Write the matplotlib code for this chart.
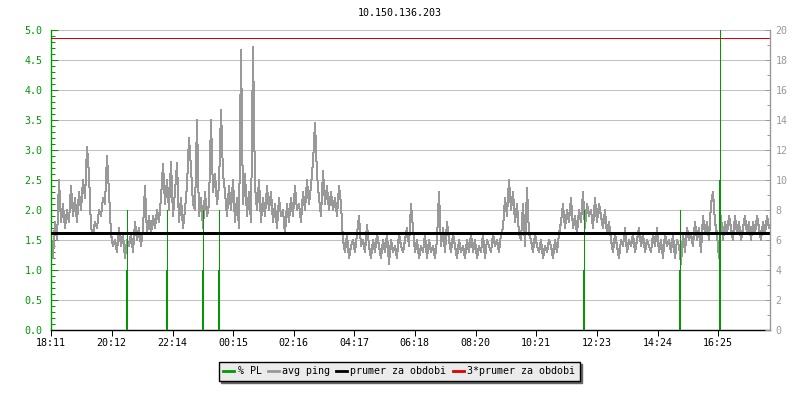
import matplotlib
matplotlib.use("Agg")
import matplotlib.pyplot as plt
from matplotlib.ticker import MultipleLocator, FormatStrFormatter
import numpy as np

title = "10.150.136.203"
tick_labels = ["18:11", "20:12", "22:14", "00:15", "02:16", "04:17",
               "06:18", "08:20", "10:21", "12:23", "14:24", "16:25"]
sample_step_min = 4
span_min = 1438

avg_ping = [
    1.6, 1.2, 1.8, 1.5, 2.5, 1.8, 2.1, 1.7, 2.0, 1.8,
    2.4, 1.9, 2.2, 1.8, 2.3, 2.0, 2.5, 2.2, 3.05, 2.6,
    1.7, 1.6, 1.8, 1.7, 2.0, 1.9, 2.2, 2.1, 2.9, 2.3,
    1.6, 1.4, 1.5, 1.3, 1.7, 1.4, 1.6, 1.2, 1.5, 1.4,
    1.6, 1.3, 1.8, 1.5, 1.7, 1.4, 1.7, 2.4, 1.6, 1.9,
    1.6, 1.9, 1.7, 2.0, 1.8, 2.2, 2.77, 2.1, 2.5, 2.0,
    2.8, 1.9, 2.3, 2.78, 1.8, 2.2, 1.7, 2.0, 2.4, 3.2,
    2.7, 2.1, 2.0, 3.5, 1.9, 2.2, 1.7, 2.3, 1.9, 2.1,
    3.5, 2.3, 2.6, 2.1, 2.4, 3.67, 2.6, 2.3, 1.9, 2.4,
    2.0, 2.5, 1.8, 2.2, 1.7, 4.67, 2.1, 2.6, 1.9, 2.3,
    1.8, 4.72, 2.4, 2.0, 2.5, 1.8, 2.2, 1.9, 2.4, 2.0,
    2.3, 1.8, 2.1, 1.7, 2.2, 1.9, 2.0, 1.6, 2.1, 1.8,
    2.2, 1.9, 2.4, 2.0, 2.1, 1.8, 2.3, 2.0, 2.5, 2.1,
    2.4, 2.8, 3.45, 2.6, 2.2, 1.9, 2.65, 2.1, 2.4, 2.0,
    2.3, 2.0, 2.2, 1.9, 2.4, 2.1, 1.5, 1.3, 1.6, 1.2,
    1.4, 1.5, 1.3, 1.6, 1.9, 1.4, 1.5, 1.3, 1.75, 1.4,
    1.2, 1.5, 1.3, 1.6, 1.4, 1.2, 1.5, 1.3, 1.6, 1.1,
    1.5, 1.3, 1.4, 1.2, 1.6, 1.4, 1.3, 1.5, 1.7, 1.4,
    2.1, 1.7, 1.3, 1.5, 1.2, 1.4, 1.3, 1.6, 1.2, 1.5,
    1.3, 1.4, 1.2, 1.5, 2.3, 1.4, 1.7, 1.3, 1.8, 1.5,
    1.3, 1.6, 1.4, 1.2, 1.5, 1.3, 1.4, 1.2, 1.5, 1.3,
    1.6, 1.3, 1.5, 1.2, 1.4, 1.3, 1.6, 1.2, 1.5, 1.4,
    1.3, 1.6, 1.4, 1.5, 1.3, 1.6, 1.7, 2.2, 1.9, 2.5,
    2.0, 2.3, 1.8, 2.1, 1.6, 1.5, 2.1, 1.4, 2.36, 1.6,
    1.5, 1.3, 1.6, 1.4, 1.3, 1.5, 1.2, 1.4, 1.3, 1.5,
    1.4, 1.2, 1.5, 1.3, 1.6, 1.8, 2.1, 1.7, 2.0, 1.8,
    2.2, 1.7, 1.9, 1.6, 2.0, 1.8, 2.3, 1.7, 2.1, 1.9,
    2.0, 1.7, 2.2, 1.8, 2.1, 1.9, 1.7, 2.0, 1.6, 1.8,
    1.5, 1.3, 1.6, 1.4, 1.2, 1.5, 1.4, 1.7, 1.3, 1.5,
    1.4, 1.6, 1.3, 1.5, 1.7, 1.4, 1.6, 1.3, 1.5, 1.4,
    1.3, 1.6, 1.4, 1.7, 1.3, 1.5, 1.2, 1.6, 1.4, 1.5,
    1.3, 1.6, 1.2, 1.5, 1.4, 1.1, 1.6, 1.3, 1.7, 1.5,
    1.6, 1.4, 1.8, 1.5, 1.7, 1.3, 1.9, 1.6, 1.8, 1.5,
    2.1, 2.3, 1.8, 1.6, 1.2, 1.9, 1.5, 1.8, 1.6, 1.9,
    1.7, 1.5, 1.9, 1.6, 1.8, 1.5, 1.7, 1.9, 1.6, 1.8,
    1.5, 1.8, 1.6, 1.9, 1.7, 1.5, 1.8, 1.6, 1.9, 1.7,
]

pl_times = [152, 232, 304, 336, 1066, 1258, 1338]
pl_peak = [2.0, 2.0, 2.0, 2.0, 2.0, 2.0, 5.0]
pl_base = [1.0, 1.0, 1.0, 1.0, 1.0, 1.0, 2.5]

mean_val = 1.625
legend_labels = ["% PL", "avg ping", "prumer za obdobi", "3*prumer za obdobi"]

GREEN = "#009900"
GRAY = "#999999"
GRID = "#c0c0c0"
RED = "#dd0000"
FONT = "DejaVu Sans Mono"
FS = 7.2
PX = 0.72

plt.rcParams["font.family"] = FONT

fig = plt.figure(figsize=(8, 4), dpi=100)
ax = fig.add_axes([51 / 800, 70 / 400, 719 / 800, 300 / 400])

t = np.arange(len(avg_ping)) * sample_step_min
ax.set_xlim(0, span_min)
ax.set_ylim(0, 5.0)

for yv in np.arange(0.5, 5.01, 0.5):
    ax.axhline(yv, color=GRID, lw=PX, zorder=0, antialiased=False)

ax.plot(t, avg_ping, color=GRAY, lw=PX, zorder=2, antialiased=False)
ax.vlines(pl_times, 0, pl_peak, color=GREEN, lw=PX, zorder=3, antialiased=False)
ax.vlines(pl_times, 0, pl_base, color=GREEN, lw=2 * PX, zorder=3, antialiased=False)
ax.axhline(mean_val, color="black", lw=3 * PX, zorder=4, antialiased=False)
ax.axhline(3 * mean_val, color=RED, lw=PX, zorder=4, antialiased=False)

def to_min(lbl):
    h, m = map(int, lbl.split(":"))
    return h * 60 + m

base = to_min(tick_labels[0])
tick_pos = [(to_min(l) - base) % 1440 for l in tick_labels]
ax.set_xticks(tick_pos)
ax.set_xticklabels(tick_labels, fontsize=FS, color="black")
ax.tick_params(axis="x", direction="out", length=4, width=PX, color="black", pad=2)

ax.yaxis.set_major_locator(MultipleLocator(0.5))
ax.yaxis.set_minor_locator(MultipleLocator(0.1))
ax.yaxis.set_major_formatter(FormatStrFormatter("%.1f"))
ax.tick_params(axis="y", which="major", direction="in", length=5, width=PX,
               color=GREEN, labelcolor=GREEN, labelsize=FS, pad=6)
ax.tick_params(axis="y", which="minor", direction="in", length=3, width=PX, color=GREEN)

ax.spines["top"].set_visible(False)
ax.spines["left"].set_color(GREEN)
ax.spines["left"].set_linewidth(1.0)
ax.spines["bottom"].set_color("black")
ax.spines["bottom"].set_linewidth(1.0)
ax.spines["right"].set_visible(False)

ax2 = ax.twinx()
ax2.set_ylim(0, 20)
ax2.yaxis.set_major_locator(MultipleLocator(2))
ax2.yaxis.set_minor_locator(MultipleLocator(1))
ax2.tick_params(axis="y", which="major", direction="in", length=3.5, width=PX,
                color=GRAY, labelcolor=GRAY, labelsize=FS, pad=4)
ax2.tick_params(axis="y", which="minor", direction="in", length=2.5, width=PX, color=GRAY)
for side in ["top", "left", "bottom"]:
    ax2.spines[side].set_visible(False)
ax2.spines["right"].set_color(GRAY)
ax2.spines["right"].set_linewidth(1.0)

fig.text(0.5, 1 - 13 / 400, title, ha="center", va="center", fontsize=FS, color="black")

handles = [
    plt.Line2D([], [], color=GREEN, lw=2),
    plt.Line2D([], [], color=GRAY, lw=2),
    plt.Line2D([], [], color="black", lw=2),
    plt.Line2D([], [], color=RED, lw=2),
]
leg = fig.legend(handles, legend_labels, loc="center", bbox_to_anchor=(399 / 800, 1 - 371 / 400),
                 ncol=4, fontsize=FS, handlelength=1.1, handletextpad=0.35,
                 columnspacing=0.6, borderpad=0.45, frameon=True, fancybox=False,
                 shadow={"color": "#666666", "alpha": 1.0})
leg.get_frame().set_facecolor("#ebebeb")
leg.get_frame().set_edgecolor("black")
leg.get_frame().set_linewidth(1.0)
leg.get_frame().set_alpha(1.0)

fig.savefig("out.png", dpi=100)
